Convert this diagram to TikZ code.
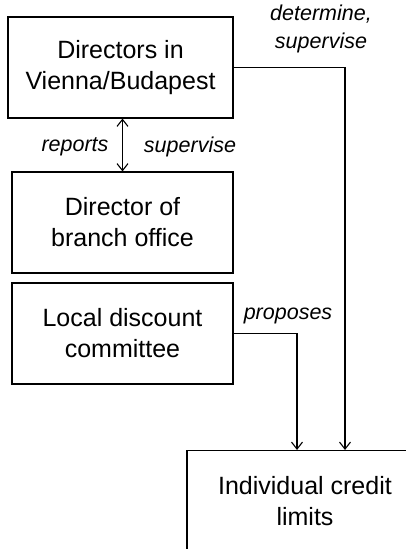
\documentclass[tikz,border=0pt]{standalone}
\usepackage{fontspec}
\setmainfont{Liberation Sans}
\usetikzlibrary{arrows.meta}
\usetikzlibrary{positioning}

\begin{document}
\begin{tikzpicture}[x=1pt, y=-1pt,
                line width=1.1pt,
                >={Straight Barb[length=7pt,width=11pt]},
                box/.style n args={2}{draw, rectangle, align=center,
                    minimum width=#1, minimum height=#2, inner sep=0pt,
                    font=\fontsize{25}{31}\selectfont},
                lbl/.style={font=\fontsize{21.5}{28}\selectfont\itshape,
                    align=center, inner sep=0pt}]
                \useasboundingbox (0,0) rectangle (405,549);
                \node[box={225pt}{101pt}](dirs) at (120.5, 67.5) {Directors in\\Vienna/Budapest};
                \node[box={221pt}{101pt}](branch) at (122.5, 222.5) {Director of\\branch office};
                \node[box={221pt}{101pt}](comm) at (122.5, 333.5) {Local discount\\committee};
                \node[box={236pt}{101pt}](limits) at (305, 501) {Individual credit\\limits};
                \draw[<->] (branch.north |- dirs.south) -- (branch.north);
                \draw[->] (dirs.east) -| ([xshift=40pt]limits.north);
                \draw[->] (comm.east) -| ([xshift=-8pt]limits.north);
                \node[lbl](detlbl) at (321, 29) {determine,\\supervise};
                \node[lbl](replbl) at (75, 147) {reports};
                \node[lbl](suplbl) at (190, 147) {supervise};
                \node[lbl](proplbl) at (288, 316) {proposes};
\end{tikzpicture}
\end{document}
